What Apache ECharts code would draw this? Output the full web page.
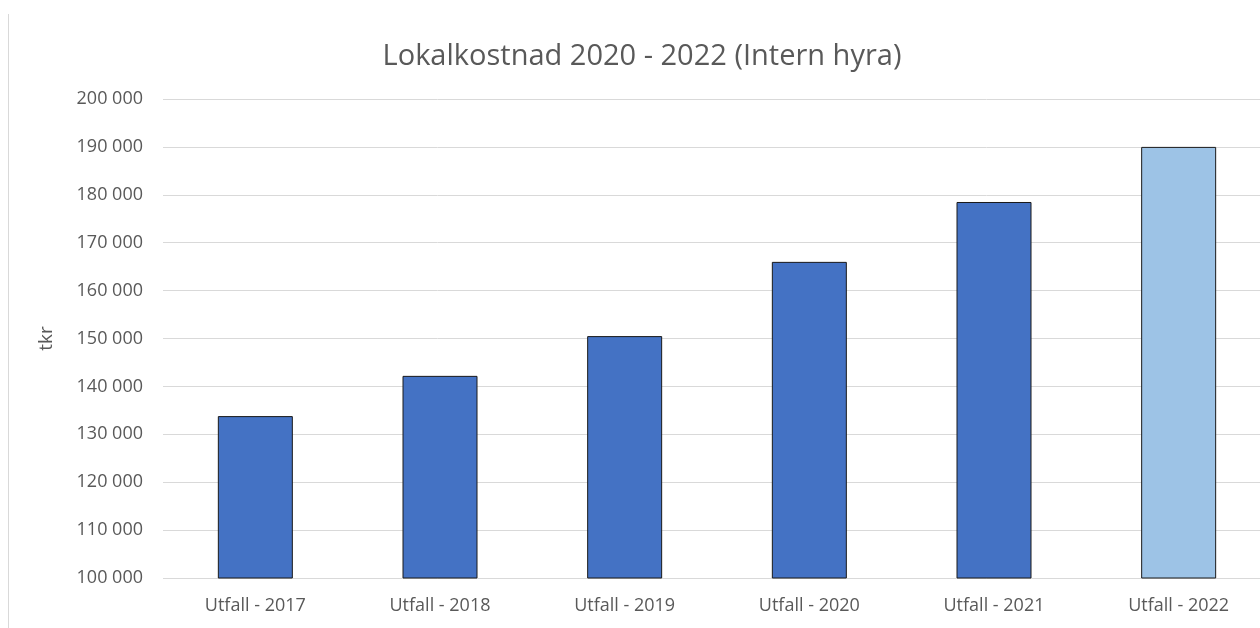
<!DOCTYPE html>
<html>
<head>
<meta charset="utf-8">
<script src="https://cdn.jsdelivr.net/npm/echarts@6/dist/echarts.min.js"></script>
<style>
  html, body { margin: 0; padding: 0; background: #fff; }
  #chart { width: 1260px; height: 628px; }
</style>
</head>
<body>
<div id="chart"></div>
<script>
// data
const categories = ['Utfall - 2017', 'Utfall - 2018', 'Utfall - 2019', 'Utfall - 2020', 'Utfall - 2021', 'Utfall - 2022']
const values = [133800, 142200, 150500, 166000, 178500, 190000]
const barColors = ['#4472C4', '#4472C4', '#4472C4', '#4472C4', '#4472C4', '#9DC3E6']

const seriesData = []
for (let i = 0; i < values.length; i++) {
  seriesData.push({ value: values[i], itemStyle: { color: barColors[i] } })
}

const font = 'Open Sans'
const textColor = '#595959'

var myChart = echarts.init(document.getElementById('chart'))
myChart.setOption({
  animation: false,
  title: {
    text: 'Lokalkostnad 2020 - 2022 (Intern hyra)',
    left: 637,
    textAlign: 'center',
    top: 37,
    textStyle: { fontFamily: font, fontSize: 29, fontWeight: 'normal', color: textColor }
  },
  graphic: [
    {
      type: 'line',
      shape: { x1: 8.5, y1: 14, x2: 8.5, y2: 628 },
      style: { stroke: '#d9d9d9', lineWidth: 1 }
    }
  ],
  // plot runs past the right edge of the picture
  grid: {
    left: 163,
    width: 1108,
    top: 99,
    bottom: 50,
    outerBoundsMode: 'none'
  },
  xAxis: {
    type: 'category',
    data: categories,
    axisLine: { show: false },
    axisTick: { show: false },
    axisLabel: { fontFamily: font, fontSize: 18, color: textColor, margin: 19 }
  },
  yAxis: {
    type: 'value',
    min: 100000,
    max: 200000,
    interval: 10000,
    name: 'tkr',
    nameLocation: 'middle',
    nameGap: 107,
    nameTextStyle: { fontFamily: font, fontSize: 19, color: textColor },
    axisLine: { show: false },
    axisTick: { show: false },
    axisLabel: {
      fontFamily: font, fontSize: 18, color: textColor, margin: 20,
      formatter: v => String(v).replace(/\B(?=(\d{3})+(?!\d))/g, ' ')
    },
    splitLine: { lineStyle: { color: '#d9d9d9', width: 1 } }
  },
  series: [
    {
      type: 'bar',
      data: seriesData,
      barWidth: 75,
      itemStyle: { borderColor: '#1a1a1a', borderWidth: 1 }
    }
  ]
})
</script>
</body>
</html>
